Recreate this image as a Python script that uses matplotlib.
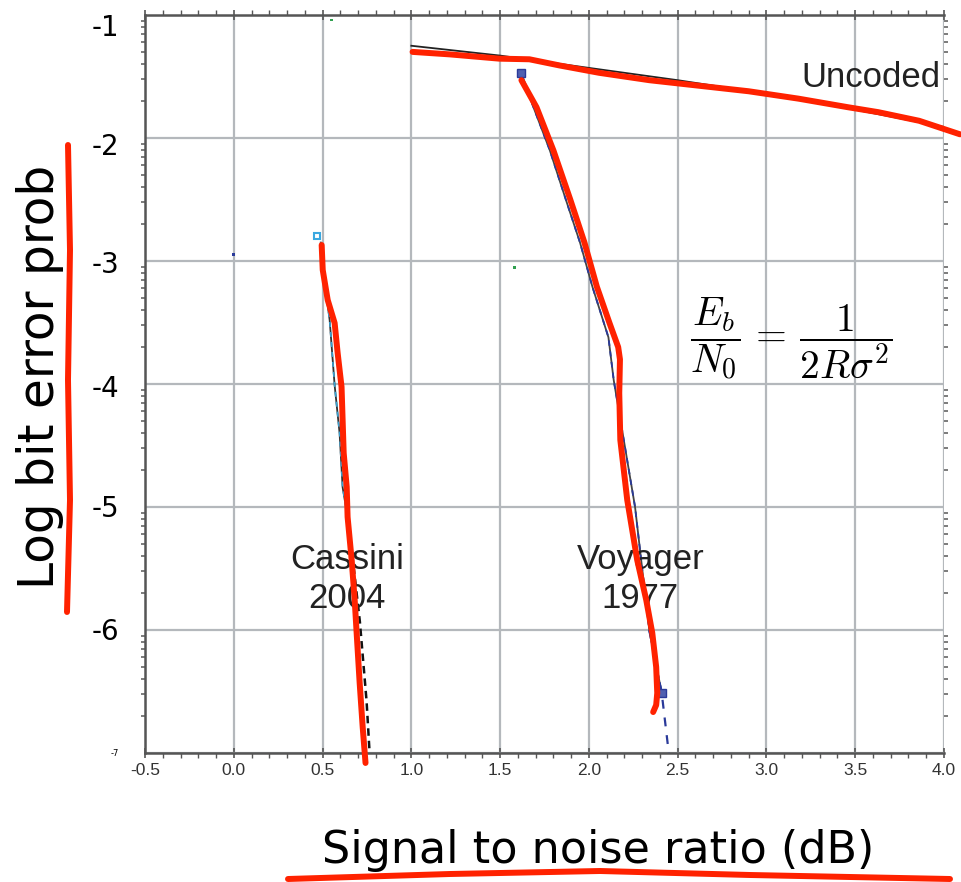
import numpy as np
import matplotlib
matplotlib.use("Agg")
import matplotlib.pyplot as plt
from matplotlib.lines import Line2D
from matplotlib.ticker import FixedLocator, MultipleLocator, NullFormatter
from matplotlib.transforms import ScaledTranslation

# ---- data: log10 bit error probability vs Eb/N0 (dB) ----
uncoded_snr = [1.0, 1.5, 2.0, 2.5, 3.0, 3.5, 4.0]
uncoded_logp = [-1.25, -1.33, -1.43, -1.53, -1.64, -1.77, -1.91]

cassini_snr = [0.49, 0.50, 0.54, 0.568, 0.596, 0.613, 0.641]
cassini_logp = [-2.85, -3.05, -3.48, -4.01, -4.40, -4.84, -5.08]
cassini_tail_snr = [0.641, 0.68, 0.71, 0.748, 0.765]
cassini_tail_logp = [-5.08, -5.55, -5.93, -6.58, -7.00]
cassini_marker = ([0.47], [-2.80])

voyager_snr = [1.62, 1.68, 1.78, 1.87, 1.95, 2.02, 2.11, 2.14, 2.26, 2.34, 2.41]
voyager_logp = [-1.47, -1.72, -2.10, -2.50, -2.85, -3.21, -3.62, -3.97, -5.00, -6.00, -6.51]
voyager_tail_snr = [2.34, 2.38, 2.41, 2.45]
voyager_tail_logp = [-6.00, -6.30, -6.51, -7.00]
voyager_markers = ([1.62, 2.41], [-1.47, -6.51])

# stray specks scattered over the plot area
speck_snr = [0.0, 1.58, 0.55]
speck_logp = [-2.95, -3.05, -1.04]
speck_colors = ["#2a3a9a", "#30a050", "#30a050"]

# hand-drawn red pen strokes (data coordinates)
pen_uncoded_x = [1.007, 1.215, 1.496, 1.665, 1.834, 2.058, 2.34, 2.62, 2.90, 3.18, 3.46, 3.63, 3.86, 4.09]
pen_uncoded_y = [-1.30, -1.32, -1.355, -1.36, -1.41, -1.47, -1.53, -1.575, -1.62, -1.68, -1.75, -1.79, -1.86, -1.97]
pen_voyager_x = [1.620, 1.705, 1.800, 1.895, 1.975, 2.045, 2.115, 2.165, 2.175, 2.171, 2.177,
                 2.216, 2.272, 2.323, 2.357, 2.379, 2.385, 2.379, 2.362]
pen_voyager_y = [-1.530, -1.750, -2.100, -2.500, -2.850, -3.210, -3.500, -3.700, -3.800, -4.073, -4.455,
                 -4.943, -5.431, -5.756, -6.024, -6.301, -6.512, -6.610, -6.667]
pen_cassini_x = [0.495, 0.501, 0.529, 0.568, 0.585, 0.607, 0.613, 0.619, 0.636, 0.641,
                 0.664, 0.681, 0.692, 0.709, 0.726, 0.742]
pen_cassini_y = [-2.870, -3.073, -3.317, -3.504, -3.748, -4.024, -4.293, -4.561, -4.837, -5.081,
                 -5.431, -5.756, -6.024, -6.431, -6.789, -7.081]

# pen underlines (figure pixel coordinates, y measured from the top)
pen_ylabel_px = ([68, 70, 68, 70, 67], [145, 250, 380, 500, 612])
pen_xlabel_px = ([288, 450, 600, 750, 950], [879, 874, 871, 875, 879])

x_ticks = [-0.5, 0.0, 0.5, 1.0, 1.5, 2.0, 2.5, 3.0, 3.5, 4.0]
x_tick_labels = ["-0.5", "0.0", "0.5", "1.0", "1.5", "2.0", "2.5", "3.0", "3.5", "4.0"]
y_ticks = [-7, -6, -5, -4, -3, -2, -1]
y_tick_labels = ["-7", "-6", "-5", "-4", "-3", "-2", "-1"]
y_label_sizes = [6, 20, 20, 20, 20, 20, 20]
y_label_drop_px = [0, 2, 2, 5, 4, 9, 13]

W, H = 961, 882
PEN = "#ff2200"

fig = plt.figure(figsize=(W / 100, H / 100), dpi=100)
ax = fig.add_axes([145 / W, 1 - 753 / H, (944 - 145) / W, (753 - 15) / H])
ax.set_xlim(-0.5, 4.0)
ax.set_ylim(-7, -1)

# ticks and grid
ax.set_xticks(x_ticks)
ax.set_xticklabels(x_tick_labels, fontsize=12.5, color="#333333",
                   family="Liberation Sans")
ax.set_yticks(y_ticks)
ax.yaxis.set_major_formatter(NullFormatter())
ytrans = ax.get_yaxis_transform()
for v, lab, size, drop in zip(y_ticks, y_tick_labels, y_label_sizes, y_label_drop_px):
    ax.text(-0.032, v, lab, fontsize=size, ha="right", va="center",
            transform=ytrans + ScaledTranslation(0, -drop / 100, fig.dpi_scale_trans),
            clip_on=False)

ax.grid(True, which="major", color="#b4b8bc", lw=1.6, zorder=0)
ax.axhline(-4, color="#5a5a5a", lw=1.4, zorder=1)

ax.xaxis.set_minor_locator(MultipleLocator(0.1))
minor_y = [d + np.log10(k) for d in range(-7, -1) for k in range(2, 10)]
ax.yaxis.set_minor_locator(FixedLocator(minor_y))

for s in ["top", "left", "bottom"]:
    ax.spines[s].set_color("#555555")
    ax.spines[s].set_linewidth(1.8)
ax.spines["right"].set_visible(False)

ax.tick_params(axis="x", which="major", direction="inout", length=7, width=1.2,
               color="#555555", top=True, bottom=True, pad=4)
ax.tick_params(axis="x", which="minor", direction="out", length=3.5, width=1.0,
               color="#555555", top=True, bottom=True)
ax.tick_params(axis="y", which="major", direction="out", length=0,
               left=True, right=False)
ax.tick_params(axis="y", which="minor", direction="out", length=3, width=1.2,
               color="#666666", left=True, right=True)

# curves
ax.plot(uncoded_snr, uncoded_logp, color="#222222", lw=1.3, zorder=3)

ax.plot(cassini_snr, cassini_logp, color="#333333", lw=1.3, zorder=3)
ax.plot(cassini_snr, cassini_logp, color="#3aa0d0", lw=1.2, ls=(0, (3, 3)), zorder=3)
ax.plot(cassini_tail_snr, cassini_tail_logp, color="#111111", lw=1.8,
        ls=(0, (3, 2)), zorder=3)
ax.plot(*cassini_marker, ls="none", marker="s", ms=5, mfc="white",
        mec="#3aa8e0", mew=1.5, zorder=4)

ax.plot(voyager_snr, voyager_logp, color="#444444", lw=1.3, zorder=3)
ax.plot(voyager_snr, voyager_logp, color="#2a3a9a", lw=1.3, ls=(0, (3, 3)), zorder=3)
ax.plot(voyager_tail_snr, voyager_tail_logp, color="#2a3a9a", lw=1.6,
        ls=(0, (4, 4)), zorder=3)
ax.plot(*voyager_markers, ls="none", marker="s", ms=5.5, mfc="#5060b0",
        mec="#2a3a9a", mew=1.0, zorder=4)

ax.scatter(speck_snr, speck_logp, s=4, c=speck_colors, marker="s", lw=0, zorder=2)

# labels on the plot
txt = dict(family="Liberation Sans", fontsize=25, color="#222222", ha="center",
           va="center", zorder=5)
ax.text(3.59, -1.51, "Uncoded", **txt)
ax.text(0.636, -5.585, "Cassini\n2004", linespacing=1.22, **txt)
ax.text(2.29, -5.585, "Voyager\n1977", linespacing=1.22, **txt)
ax.text(3.14, -3.63, r"$\dfrac{E_b}{N_0}\,=\,\dfrac{1}{2R\sigma^2}$",
        fontsize=28.5, ha="center", va="center", math_fontfamily="cm", zorder=5)

# red pen strokes over the curves
pen = dict(color=PEN, lw=4.3, solid_capstyle="round", solid_joinstyle="round",
           zorder=6, clip_on=False)
ax.plot(pen_uncoded_x, pen_uncoded_y, **pen)
ax.plot(pen_voyager_x, pen_voyager_y, **pen)
ax.plot(pen_cassini_x, pen_cassini_y, **pen)

# axis titles
fig.text(40 / W, 1 - 377 / H, "Log bit error prob", rotation=90, fontsize=35,
         ha="center", va="center")
fig.text(598 / W, 1 - 851 / H, "Signal to noise ratio (dB)", fontsize=32,
         ha="center", va="center")

for xs, ys in (pen_ylabel_px, pen_xlabel_px):
    fig.add_artist(Line2D(np.array(xs) / W, 1 - np.array(ys) / H,
                          transform=fig.transFigure, color=PEN, lw=4.3,
                          solid_capstyle="round"))

fig.savefig("out.png", dpi=100)
